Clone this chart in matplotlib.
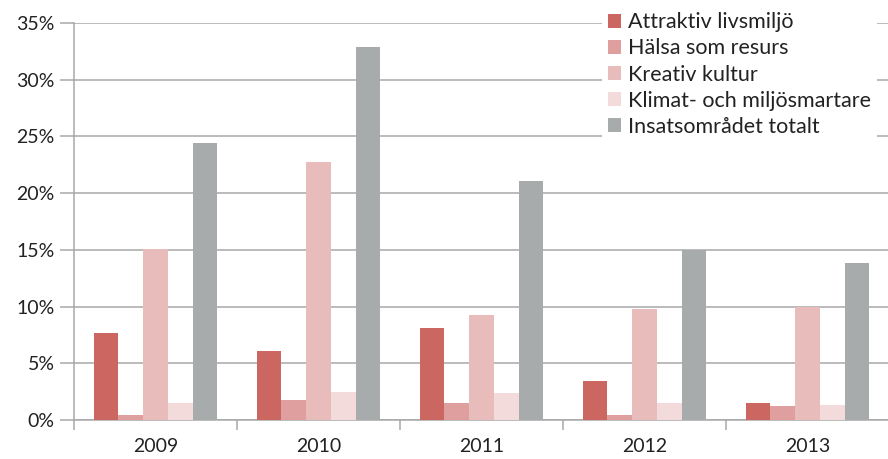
import numpy as np
import matplotlib
matplotlib.use("Agg")
import matplotlib.pyplot as plt
from matplotlib.patches import Patch

plt.rcParams['font.family'] = ['Lato', 'DejaVu Sans']

years = ["2009", "2010", "2011", "2012", "2013"]
series_names = ["Attraktiv livsmiljö", "Hälsa som resurs", "Kreativ kultur",
                "Klimat- och miljösmartare", "Insatsområdet totalt"]
attraktiv = [7.7, 6.1, 8.1, 3.4, 1.5]
halsa = [0.45, 1.75, 1.5, 0.45, 1.2]
kreativ = [15.1, 22.75, 9.25, 9.8, 10.0]
klimat = [1.5, 2.5, 2.4, 1.5, 1.35]
totalt = [24.4, 32.9, 21.1, 15.0, 13.85]
colors = ["#CC6661", "#DE9F9E", "#E8BCBA", "#F2DBDA", "#A8ABAC"]

values = [attraktiv, halsa, kreativ, klimat, totalt]

fig = plt.figure(figsize=(8.88, 4.59), dpi=100)
ax = fig.add_axes([74 / 888, 1 - 420 / 459, 815 / 888, 397 / 459])

x = np.arange(len(years))
w = 0.152
for i, (vals, col) in enumerate(zip(values, colors)):
    ax.bar(x + (i - 2) * w, vals, width=w, color=col, zorder=3, linewidth=0)

ax.set_xlim(-0.5, len(years) - 0.5)
ax.set_ylim(0, 35)
ax.set_yticks(np.arange(0, 36, 5))
ax.set_yticklabels([f"{v}%" for v in range(0, 36, 5)], fontsize=14, color="#222222")
ax.yaxis.grid(True, color="#A8A8A8", linewidth=1.1, zorder=0)
ax.tick_params(axis="y", length=10, width=1.1, color="#A8A8A8", pad=4)

ax.set_xticks(np.arange(-0.5, len(years), 1.0))
ax.set_xticklabels([])
ax.set_xticks(x, minor=True)
ax.set_xticklabels(years, minor=True, fontsize=14, color="#222222")
ax.tick_params(axis="x", which="major", length=7, width=1.1, color="#A8A8A8")
ax.tick_params(axis="x", which="minor", length=0, pad=13)

for s in ["top", "right"]:
    ax.spines[s].set_visible(False)
for s in ["left", "bottom"]:
    ax.spines[s].set_color("#A8A8A8")
    ax.spines[s].set_linewidth(1.1)

handles = [Patch(facecolor=c, edgecolor="none") for c in colors]
leg = fig.legend(handles, series_names, loc="upper left",
                 bbox_to_anchor=(602 / 888, 1 - 6 / 459), frameon=True,
                 fontsize=15.5, handlelength=0.6, handleheight=0.6,
                 handletextpad=0.3, labelspacing=0.28, borderpad=0.3,
                 borderaxespad=0)
leg.get_frame().set_facecolor("white")
leg.get_frame().set_edgecolor("none")
leg.get_frame().set_alpha(1)
for t in leg.get_texts():
    t.set_color("#222222")

fig.savefig("out.png", dpi=100)
